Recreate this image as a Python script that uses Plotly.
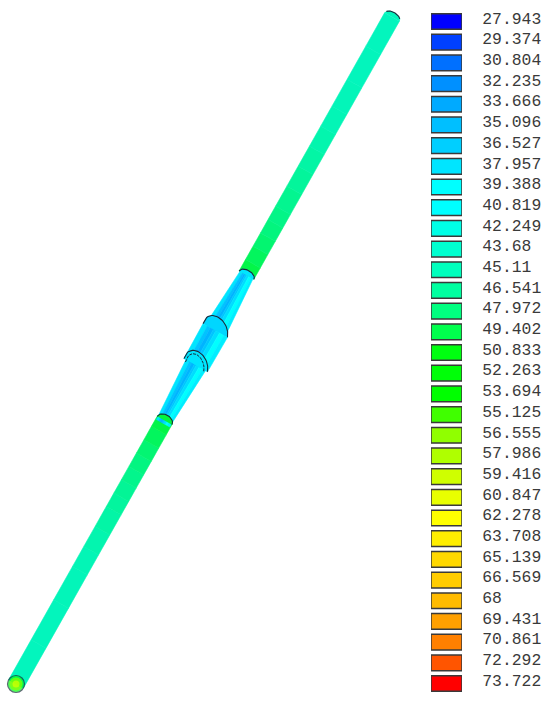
import numpy as np
import plotly.graph_objects as go

# legend
levels = [27.943, 29.374, 30.804, 32.235, 33.666, 35.096, 36.527, 37.957, 39.388, 40.819, 42.249,
          43.68, 45.11, 46.541, 47.972, 49.402, 50.833, 52.263, 53.694, 55.125, 56.555, 57.986,
          59.416, 60.847, 62.278, 63.708, 65.139, 66.569, 68, 69.431, 70.861, 72.292, 73.722]
level_colors = ["#0000FF", "#0040FF", "#0070FF", "#0090FF", "#00AAFF", "#00BFFF", "#00CFFF", "#00E5FF",
                "#00FFFF", "#00FFFF", "#00FFE6", "#00FFD0", "#00FFBD", "#00FFA0", "#00FF80", "#00FF4D",
                "#00FF10", "#00FF08", "#00FF00", "#40FF00", "#90FF00", "#AFFF00", "#CFFF00", "#E8FF00",
                "#FFFF00", "#FFEE00", "#FFD800", "#FFCC00", "#FFBB00", "#FFA000", "#FF8000", "#FF5500",
                "#FF0000"]

# rod axis, bottom end to top end
axis_x = [16, 392]
axis_y = [684, 17]

# (position along rod, temperature)
lower_rod_t = [0.00, 0.06, 0.12, 0.17, 0.20, 0.23, 0.26, 0.28, 0.30, 0.32, 0.34, 0.36, 0.38, 0.395]
lower_rod_v = [44.6, 44.6, 44.8, 45.0, 45.3, 45.7, 46.2, 46.6, 47.0, 47.5, 48.0, 48.6, 49.2, 49.8]
upper_rod_t = [0.613, 0.63, 0.65, 0.67, 0.69, 0.71, 0.74, 0.77, 0.80, 0.83, 0.86, 0.90, 0.95, 1.00]
upper_rod_v = [49.8, 49.2, 48.6, 48.1, 47.7, 47.3, 46.8, 46.3, 45.8, 45.3, 45.0, 44.8, 44.6, 44.6]
rod_half = 8.5

# sleeve in the middle: position, half width
lower_cone_t = [0.391, 0.485]
lower_cone_h = [7.5, 11.5]
upper_cone_t = [0.530, 0.613]
upper_cone_h = [11.5, 7.5]
body_t = [0.478, 0.530]
body_h = [13.5, 14.0]

# strips across the sleeve: edges as fraction of half width, left to right, temperature
strip_edges = [-1.0, -0.65, -0.4, -0.15, 0.05, 0.35, 0.7, 1.0]
strip_v = [38.0, 35.6, 34.4, 35.8, 37.5, 39.5, 38.5][::-1][::-1]

# end disc at the bottom
disc_sizes = [17, 13, 7]
disc_v = [50.5, 56.5, 60.0]

OUTLINE = "#1B2A3A"

ax0 = np.array([axis_x[0], axis_y[0]], dtype=float)
ax1 = np.array([axis_x[1], axis_y[1]], dtype=float)
along = ax1 - ax0
length = np.hypot(*along)
unit = along / length
# points to the lower right of the rod
normal = np.array([-unit[1], unit[0]])


def color_of(v, shade=0.95):
    rgb = [int(c[i:i + 2], 16) for c in level_colors for i in (1, 3, 5)]
    rgb = np.array(rgb).reshape(-1, 3)
    c = [np.interp(v, levels, rgb[:, k]) for k in range(3)]
    # the rod is a little dimmer than the legend
    c = [int(x * shade + 18 * (1 - shade) * 4) for x in c]
    return f"rgb({c[0]},{c[1]},{c[2]})"


def pt(t, s):
    p = ax0 + along * t + normal * s
    return p[0], p[1]


fig = go.Figure()


def add_poly(pts, color):
    fig.add_trace(go.Scatter(x=[p[0] for p in pts], y=[p[1] for p in pts], mode="lines", fill="toself",
                             fillcolor=color, line=dict(color=color, width=0.6), hoverinfo="skip",
                             showlegend=False))


def add_band(t0, t1, h0, h1, s0, s1, color):
    add_poly([pt(t0, s0 * h0), pt(t1, s0 * h1), pt(t1, s1 * h1), pt(t0, s1 * h0), pt(t0, s0 * h0)], color)


def dome(t, half, bulge, skew=0.0, s0=-1.0, s1=1.0):
    s = np.linspace(s0, s1, 25)
    pts = []
    for a in s:
        r = np.sqrt(max(1 - a * a, 0))
        pts.append(pt(t + bulge * r / length, a * half - skew * r))
    return pts


def add_arc(t, half, bulge, skew=0.0, width=1.1, dash="solid", s0=-1.0, s1=1.0):
    pts = dome(t, half, bulge, skew, s0, s1)
    fig.add_trace(go.Scatter(x=[p[0] for p in pts], y=[p[1] for p in pts], mode="lines",
                             line=dict(color=OUTLINE, width=width, dash=dash), hoverinfo="skip",
                             showlegend=False))


def add_rod(ts, vs):
    for i in range(len(ts) - 1):
        add_band(ts[i], ts[i + 1], rod_half, rod_half, -1, 1, color_of((vs[i] + vs[i + 1]) / 2))


def add_sleeve(ts, hs):
    for j in range(len(strip_v)):
        add_band(ts[0], ts[1], hs[0], hs[1], strip_edges[j], strip_edges[j + 1], color_of(strip_v[j], 1.0))


add_rod(lower_rod_t, lower_rod_v)
add_rod(upper_rod_t, upper_rod_v)
add_poly(dome(lower_rod_t[-1], rod_half, 6), color_of(lower_rod_v[-1]))
add_poly(dome(upper_rod_t[-1], rod_half, 5), color_of(upper_rod_v[-1]))

add_sleeve(upper_cone_t, upper_cone_h)
add_sleeve(lower_cone_t, lower_cone_h)
add_poly(dome(lower_rod_t[-1], rod_half, 6), color_of(lower_rod_v[-1]))
add_poly(dome(upper_cone_t[1], rod_half, 5), color_of(38.0, 1.0))
add_sleeve(body_t, body_h)
add_poly(dome(body_t[1], body_h[1], 13, 4), color_of(37.0, 1.0))
add_poly(dome(body_t[0], body_h[0], 13, 4), color_of(38.0, 1.0))

add_arc(lower_rod_t[-1], rod_half, 6)
add_arc(upper_cone_t[1], rod_half, 5)
add_arc(upper_rod_t[-1], rod_half, 5, s0=-0.9, s1=0.9)
add_arc(body_t[1], body_h[1], 13, 4)
add_arc(body_t[0], body_h[0], 13, 4)
add_arc(body_t[0] - 0.003, body_h[0] - 3, 12, 4, width=1, dash="3px,1px")

fig.add_trace(go.Scatter(x=[axis_x[0]] * 3, y=[axis_y[0]] * 3, mode="markers", hoverinfo="skip", showlegend=False,
                         marker=dict(size=disc_sizes, color=[color_of(v, 1.0) for v in disc_v],
                                     line=dict(color=[OUTLINE, "rgba(0,0,0,0)", "rgba(0,0,0,0)"], width=1.2))))

# legend swatches
labels = [str(v) for v in levels]
fig.add_trace(go.Bar(x=[1] * len(levels), y=labels, orientation="h", width=0.76, xaxis="x2", yaxis="y2",
                     marker=dict(color=level_colors, line=dict(color="#3A3A3A", width=1.5)),
                     hoverinfo="skip", showlegend=False))
# labels sit a bit above their swatch, so they get their own axes
fig.add_trace(go.Scatter(x=[0] * len(levels), y=labels, mode="markers", xaxis="x3", yaxis="y3",
                         marker=dict(opacity=0), hoverinfo="skip", showlegend=False))

row_h = 20.69
top = 21.5 - row_h / 2
bottom = 683.5 + row_h / 2
label_shift = 3.5
y_range = [len(levels) - 0.5, -0.5]
x_domain = [431 / 550, 462 / 550]
fig.update_layout(
    width=550,
    height=703,
    margin=dict(l=0, r=0, t=0, b=0),
    paper_bgcolor="white",
    # transparent, otherwise the label subplot paints over the swatches
    plot_bgcolor="rgba(0,0,0,0)",
    xaxis=dict(domain=[0, 1], range=[0, 550], visible=False, fixedrange=True),
    yaxis=dict(domain=[0, 1], range=[703, 0], visible=False, fixedrange=True),
    xaxis2=dict(domain=x_domain, range=[0, 1], visible=False, anchor="y2", fixedrange=True),
    xaxis3=dict(domain=x_domain, range=[0, 1], visible=False, anchor="y3", fixedrange=True),
    yaxis2=dict(domain=[1 - bottom / 703, 1 - top / 703], type="category", categoryorder="array",
                categoryarray=labels, range=y_range, anchor="x2", showticklabels=False, ticks="",
                showgrid=False, showline=False, zeroline=False, fixedrange=True),
    yaxis3=dict(domain=[1 - (bottom - label_shift) / 703, 1 - (top - label_shift) / 703], type="category",
                categoryorder="array", categoryarray=labels, range=y_range, side="right", anchor="x3",
                showgrid=False, showline=False, zeroline=False, ticks="outside", ticklen=16,
                tickcolor="rgba(0,0,0,0)", tickmode="array", tickvals=labels, ticktext=labels,
                tickfont=dict(family="Liberation Mono", size=16.4, color="#3A3A3A"), fixedrange=True),
)

fig.write_html("out.html", config=dict(displayModeBar=False),
               post_script="document.body.style.margin='0';document.body.style.overflow='hidden';")
